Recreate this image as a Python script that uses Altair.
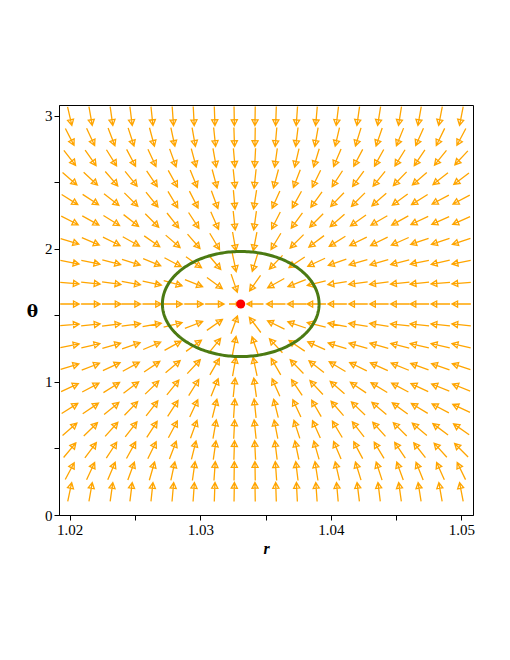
import altair as alt
import pandas as pd
import numpy as np

# grid columns (r) and rows (theta)
r_cols = [1.0200, 1.0216, 1.0232, 1.0247, 1.0263, 1.0279, 1.0295, 1.0311, 1.0326, 1.0342,
          1.0358, 1.0374, 1.0389, 1.0405, 1.0421, 1.0437, 1.0453, 1.0468, 1.0484, 1.0500]
theta_rows = [2.999, 2.842, 2.685, 2.528, 2.371, 2.214, 2.057, 1.900, 1.743, 1.586,
              1.429, 1.272, 1.115, 0.958, 0.801, 0.644, 0.487, 0.330, 0.173]

# arrow directions on screen (degrees, counter-clockwise from +r), one list per row, top to bottom
ang_19 = [-77, -80, -82, -83, -84, -86, -87, -88, -89, -91, -92, -94, -95, -97, -98, -99, -99, -100, -101, -101]
ang_18 = [-63, -65, -69, -72, -75, -78, -80, -84, -88, -91, -95, -97, -100, -103, -107, -109, -112, -114, -116, -118]
ang_17 = [-52, -55, -58, -62, -65, -70, -75, -80, -85, -93, -98, -103, -107, -113, -118, -119, -122, -124, -129, -133]
ang_16 = [-41, -43, -49, -51, -56, -61, -68, -75, -84, -96, -105, -111, -116, -123, -126, -129, -134, -139, -142, -143]
ang_15 = [-32, -33, -38, -45, -51, -59, -63, -70, -85, -99, -114, -119, -126, -134, -135, -139, -144, -148, -152, -152]
ang_14 = [-27, -29, -32, -38, -45, -52, -57, -66, -84, -98, -117, -126, -135, -139, -145, -150, -151, -155, -156, -156]
ang_13 = [-17, -23, -26, -29, -35, -41, -49, -59, -80, -101, -121, -135, -143, -148, -154, -154, -156, -161, -162, -162]
ang_12 = [-11, -12, -15, -17, -22, -28, -35, -50, -78, -107, -134, -146, -155, -161, -164, -164, -166, -168, -167, -169]
ang_11 = [-5, -6, -8, -10, -12, -16, -22, -36, -71, -125, -151, -159, -166, -171, -173, -173, -174, -174, -175, -175]
ang_10 = [0, 0, 0, 0, 0, 0, 0, 0, 0, 180, 180, 180, 180, 180, 180, 180, 180, 180, 180, 180]
ang_9 = [5, 6, 7, 8, 10, 14, 21, 35, 70, 127, 154, 161, 166, 170, 171, 171, 174, 174, 174, 174]
ang_8 = [11, 13, 16, 19, 23, 29, 36, 51, 79, 109, 133, 146, 156, 163, 164, 164, 166, 167, 167, 167]
ang_7 = [17, 21, 25, 29, 34, 40, 47, 60, 80, 102, 120, 134, 142, 149, 154, 156, 158, 160, 161, 162]
ang_6 = [25, 28, 32, 37, 44, 51, 58, 68, 84, 98, 114, 124, 133, 139, 146, 149, 152, 155, 158, 158]
ang_5 = [32, 34, 39, 46, 52, 57, 65, 76, 86, 96, 104, 115, 120, 131, 136, 140, 144, 149, 152, 155]
ang_4 = [41, 44, 48, 52, 57, 62, 70, 80, 87, 96, 101, 108, 114, 121, 128, 132, 135, 140, 143, 145]
ang_3 = [50, 53, 57, 61, 64, 69, 76, 82, 88, 93, 97, 102, 106, 113, 118, 121, 124, 128, 132, 135]
ang_2 = [62, 65, 67, 70, 74, 78, 82, 86, 89, 91, 94, 97, 99, 103, 107, 108, 110, 112, 114, 116]
ang_1 = [78, 80, 82, 83, 84, 85, 86, 88, 89, 91, 92, 93, 94, 95, 97, 97, 98, 99, 100, 101]

# relative arrow lengths that differ from 1 (row index, column index, factor)
short_arrows = [(9, 8, 0.55), (9, 9, 0.88)]

# equilibrium point and surrounding ellipse
eq_r = [1.0331]
eq_theta = [1.586]
ell_center = (1.0331, 1.586)
ell_semi = (0.0060, 0.395)

angle_rows = [ang_19, ang_18, ang_17, ang_16, ang_15, ang_14, ang_13, ang_12, ang_11, ang_10,
              ang_9, ang_8, ang_7, ang_6, ang_5, ang_4, ang_3, ang_2, ang_1]

ARROW_PX = 19
records = []
for i, th in enumerate(theta_rows):
    for j, r in enumerate(r_cols):
        a = angle_rows[i][j]
        m = 1.0
        for (si, sj, f) in short_arrows:
            if si == i and sj == j:
                m = f
        records.append({"r": r, "theta": th, "rot": (-a) % 360, "size": (ARROW_PX * m) ** 2})
arrows = pd.DataFrame(records)

t = np.linspace(0, 2 * np.pi, 241)
ell = pd.DataFrame({"r": ell_center[0] + ell_semi[0] * np.cos(t),
                    "theta": ell_center[1] + ell_semi[1] * np.sin(t),
                    "order": np.arange(len(t))})
pt = pd.DataFrame({"r": eq_r, "theta": eq_theta})

xdom = [1.01918, 1.05089]
ydom = [0, 3.082]
xticks = [1.02, 1.025, 1.03, 1.035, 1.04, 1.045, 1.05]
yticks = [0, 0.5, 1, 1.5, 2, 2.5, 3]

x_enc = alt.X("r:Q", scale=alt.Scale(domain=xdom, nice=False, zero=False),
              axis=alt.Axis(values=xticks, title="r",
                            labelExpr="abs(datum.value*100 - round(datum.value*100)) < 0.01 ? format(datum.value, '.2f') : ''",
                            titleFont="Liberation Serif", titleFontStyle="italic", titleFontWeight="bold",
                            titleFontSize=16, titleX=207, titleY=33, titleBaseline="middle",
                            titleAlign="center"))
y_enc = alt.Y("theta:Q", scale=alt.Scale(domain=ydom, nice=False, zero=False),
              axis=alt.Axis(values=yticks, title="θ",
                            labelExpr="datum.value % 1 == 0 ? format(datum.value, 'd') : ''",
                            titleFont="DejaVu Serif", titleFontWeight="bold", titleFontSize=17,
                            titleAngle=0, titleX=-27, titleY=206, titleAlign="center",
                            titleBaseline="middle"))

arrow_shape = "M-1,0L1,0M1,0L0.4,-0.32L0.4,0.32Z"
arrow_layer = alt.Chart(arrows).mark_point(
    shape=arrow_shape, filled=False, color="#FFA500", strokeWidth=1.3, opacity=1
).encode(
    x=x_enc, y=y_enc,
    angle=alt.Angle("rot:Q", scale=None),
    size=alt.Size("size:Q", scale=None),
)

ell_layer = alt.Chart(ell).mark_line(color="#4B7A12", strokeWidth=3).encode(
    x="r:Q", y="theta:Q", order="order:Q"
)

pt_layer = alt.Chart(pt).mark_point(filled=True, color="#FF0000", size=80, opacity=1).encode(
    x="r:Q", y="theta:Q"
)

chart = alt.layer(arrow_layer, ell_layer, pt_layer).properties(
    width=414, height=410,
    autosize=alt.AutoSizeParams(type="none"),
    padding={"left": 51, "top": 97, "right": 29, "bottom": 137},
).configure_view(
    stroke="black", strokeWidth=1
).configure_axis(
    grid=False, labelFont="Liberation Serif", labelFontSize=15, labelColor="black",
    tickColor="black", domainColor="black", tickSize=5, labelPadding=2,
    titleColor="black"
)

chart.save("out.html", embed_options={"renderer": "svg", "actions": False})
